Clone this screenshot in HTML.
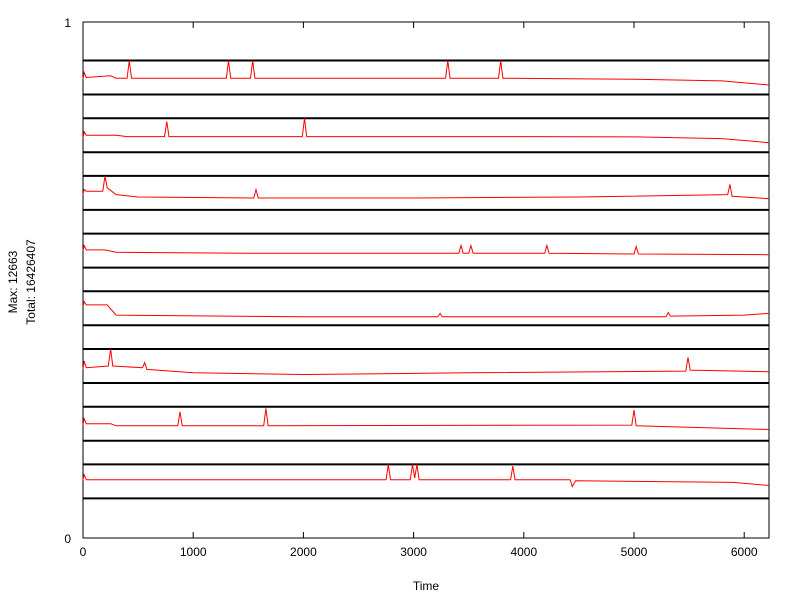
<!DOCTYPE html>
<html><head><meta charset="utf-8"><style>
body{margin:0;background:#fff}
svg text{font-family:"Liberation Sans",sans-serif;font-size:12px;fill:#000}
</style></head><body>
<svg id="c" width="800" height="600" xmlns="http://www.w3.org/2000/svg"></svg>
<script>
const xTicks=[0,1000,2000,3000,4000,5000,6000];
const xMax=6225;
// each series: [time, relative value 0..1 within its strip]
const s1=[[0,0.45],[10,0.65],[30,0.5],[250,0.55],[300,0.48],[400,0.48],[420,1],[440,0.48],[1300,0.48],[1320,1],[1340,0.48],[1520,0.48],[1540,1],[1560,0.48],[3290,0.48],[3310,1],[3330,0.48],[3770,0.48],[3790,1],[3810,0.48],[5000,0.45],[5800,0.4],[6225,0.28]];
const s2=[[0,0.4],[10,0.6],[30,0.5],[300,0.5],[400,0.46],[740,0.46],[760,0.9],[780,0.46],[1990,0.46],[2010,1],[2030,0.46],[4000,0.46],[5000,0.45],[5800,0.4],[6225,0.28]];
const s3=[[0,0.45],[10,0.6],[30,0.55],[180,0.55],[200,1],[220,0.65],[300,0.45],[500,0.38],[1550,0.35],[1570,0.6],[1590,0.35],[3000,0.35],[4500,0.38],[5850,0.45],[5870,0.75],[5890,0.4],[6225,0.33]];
const s4=[[0,0.5],[10,0.65],[30,0.52],[200,0.52],[300,0.45],[1500,0.42],[3410,0.42],[3430,0.65],[3450,0.42],[3500,0.42],[3520,0.65],[3540,0.42],[4190,0.42],[4210,0.65],[4230,0.42],[5000,0.4],[5020,0.62],[5040,0.4],[6225,0.38]];
const s5=[[0,0.55],[10,0.7],[30,0.6],[220,0.6],[300,0.3],[2000,0.25],[3220,0.25],[3240,0.35],[3260,0.25],[5290,0.25],[5310,0.38],[5330,0.27],[6000,0.3],[6225,0.35]];
const s6=[[0,0.4],[10,0.65],[30,0.45],[230,0.5],[250,1],[270,0.5],[540,0.45],[560,0.6],[580,0.4],[1000,0.3],[2000,0.25],[3500,0.3],[5470,0.35],[5490,0.75],[5510,0.38],[6225,0.33]];
const s7=[[0,0.45],[10,0.65],[30,0.5],[250,0.5],[300,0.44],[860,0.44],[880,0.85],[900,0.44],[1640,0.44],[1660,0.95],[1680,0.44],[4980,0.46],[5000,0.9],[5020,0.44],[6225,0.33]];
const s8=[[0,0.55],[10,0.7],[30,0.55],[300,0.55],[2750,0.55],[2770,1],[2790,0.55],[2970,0.55],[2990,1],[3010,0.6],[3030,1],[3050,0.55],[3880,0.55],[3900,0.95],[3920,0.55],[4420,0.55],[4440,0.35],[4470,0.52],[5000,0.5],[5900,0.47],[6225,0.38]];
const series=[s1,s2,s3,s4,s5,s6,s7,s8];

const NS="http://www.w3.org/2000/svg",svg=document.getElementById('c');
const L=83,R=769,T=22,B=538;
const xs=t=>L+t/xMax*(R-L);
function mk(tag,a){const e=document.createElementNS(NS,tag);for(const k in a)e.setAttribute(k,a[k]);svg.appendChild(e);return e;}
let f=mk('rect',{x:L,y:T,width:R-L,height:B-T,fill:'none',stroke:'#000','stroke-width':1});

xTicks.forEach(v=>{
  const x=xs(v);
  let a=mk('line',{x1:x,x2:x,y1:B,y2:B-6,stroke:'#000'});
  let b=mk('line',{x1:x,x2:x,y1:T,y2:T+6,stroke:'#000'});
  let t=mk('text',{x:x,y:B+18,'text-anchor':'middle'});t.textContent=v;
});
series.forEach((s,i)=>{
  const top=60.5+i*57.7,bot=top+34;
  let l1=mk('line',{x1:L,x2:R,y1:top,y2:top,stroke:'#000','stroke-width':2});
  let l2=mk('line',{x1:L,x2:R,y1:bot,y2:bot,stroke:'#000','stroke-width':2});
  const pts=s.map(p=>xs(p[0]).toFixed(1)+','+(bot-p[1]*(bot-top)).toFixed(1)).join(' ');
  let pl=mk('polyline',{points:pts,fill:'none',stroke:'#f00','stroke-width':1});
  
});
let y1=mk('text',{x:L-12,y:T+5,'text-anchor':'end'});y1.textContent='1';
let y0=mk('text',{x:L-12,y:B+5,'text-anchor':'end'});y0.textContent='0';
let xt=mk('text',{x:(L+R)/2,y:590,'text-anchor':'middle'});xt.textContent='Time';
let ya=mk('text',{x:17,y:282,'text-anchor':'middle',transform:'rotate(-90 17 282)'});ya.textContent='Max: 12663';
let yb=mk('text',{x:35,y:282,'text-anchor':'middle',transform:'rotate(-90 35 282)'});yb.textContent='Total: 16426407';
</script>
</body></html>
